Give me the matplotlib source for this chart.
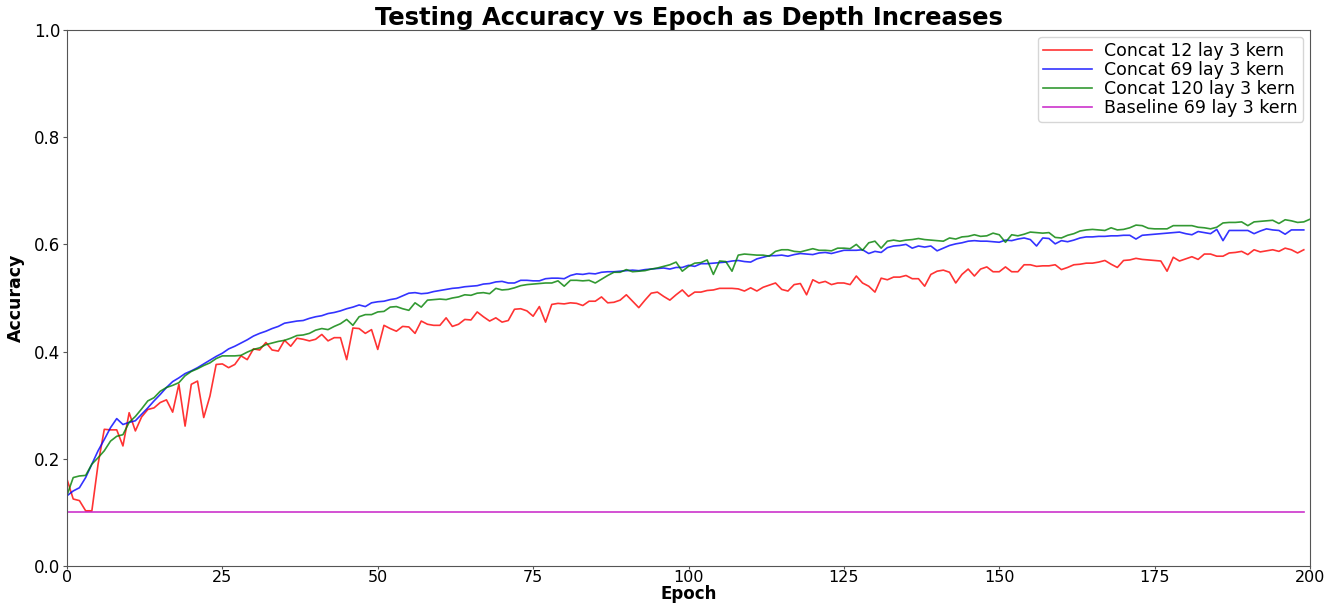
import numpy as np
import matplotlib
matplotlib.use("Agg")
import matplotlib.pyplot as plt
from matplotlib import font_manager

# Test accuracy per epoch for each network configuration
concat_12 = [
    0.162, 0.125, 0.122, 0.103, 0.103, 0.190, 0.255, 0.254, 0.254, 0.224,
    0.286, 0.252, 0.278, 0.292, 0.295, 0.305, 0.310, 0.287, 0.339, 0.261,
    0.339, 0.345, 0.277, 0.317, 0.376, 0.377, 0.370, 0.376, 0.392, 0.385,
    0.405, 0.403, 0.417, 0.403, 0.401, 0.421, 0.410, 0.425, 0.423, 0.420,
    0.423, 0.432, 0.420, 0.426, 0.426, 0.385, 0.444, 0.443, 0.434, 0.441,
    0.404, 0.449, 0.443, 0.438, 0.447, 0.446, 0.434, 0.457, 0.451, 0.449,
    0.449, 0.463, 0.447, 0.451, 0.460, 0.459, 0.474, 0.465, 0.457, 0.463,
    0.455, 0.458, 0.479, 0.480, 0.476, 0.466, 0.484, 0.455, 0.488, 0.490,
    0.489, 0.491, 0.490, 0.486, 0.494, 0.494, 0.502, 0.491, 0.492, 0.496,
    0.506, 0.494, 0.482, 0.496, 0.509, 0.511, 0.503, 0.496, 0.506, 0.515,
    0.503, 0.511, 0.511, 0.514, 0.515, 0.518, 0.518, 0.518, 0.517, 0.513,
    0.519, 0.513, 0.520, 0.524, 0.528, 0.516, 0.513, 0.525, 0.527, 0.506,
    0.534, 0.528, 0.531, 0.525, 0.528, 0.528, 0.525, 0.541, 0.528, 0.522,
    0.511, 0.537, 0.534, 0.539, 0.539, 0.542, 0.536, 0.536, 0.522, 0.544,
    0.550, 0.552, 0.548, 0.528, 0.544, 0.554, 0.541, 0.554, 0.558, 0.549,
    0.549, 0.558, 0.549, 0.549, 0.562, 0.562, 0.559, 0.560, 0.560, 0.562,
    0.553, 0.557, 0.562, 0.563, 0.565, 0.565, 0.567, 0.570, 0.563, 0.557,
    0.570, 0.571, 0.574, 0.572, 0.571, 0.570, 0.569, 0.550, 0.576, 0.569,
    0.573, 0.577, 0.572, 0.582, 0.582, 0.578, 0.578, 0.584, 0.585, 0.587,
    0.581, 0.590, 0.586, 0.588, 0.590, 0.587, 0.593, 0.590, 0.584, 0.590,
]

concat_69 = [
    0.131, 0.140, 0.146, 0.165, 0.190, 0.215, 0.236, 0.258, 0.275, 0.264,
    0.268, 0.271, 0.283, 0.295, 0.308, 0.320, 0.333, 0.344, 0.351, 0.359,
    0.364, 0.370, 0.377, 0.384, 0.391, 0.397, 0.405, 0.410, 0.416, 0.422,
    0.429, 0.434, 0.438, 0.443, 0.447, 0.453, 0.455, 0.457, 0.458, 0.462,
    0.465, 0.467, 0.471, 0.473, 0.476, 0.480, 0.483, 0.487, 0.484, 0.491,
    0.493, 0.494, 0.497, 0.499, 0.504, 0.509, 0.510, 0.508, 0.509, 0.512,
    0.514, 0.516, 0.518, 0.519, 0.521, 0.522, 0.523, 0.526, 0.527, 0.530,
    0.531, 0.528, 0.528, 0.533, 0.533, 0.532, 0.532, 0.536, 0.537, 0.537,
    0.536, 0.542, 0.545, 0.544, 0.546, 0.545, 0.548, 0.549, 0.549, 0.550,
    0.551, 0.552, 0.551, 0.553, 0.554, 0.555, 0.556, 0.554, 0.557, 0.557,
    0.561, 0.559, 0.564, 0.564, 0.565, 0.566, 0.567, 0.569, 0.570, 0.568,
    0.567, 0.573, 0.576, 0.579, 0.579, 0.580, 0.578, 0.581, 0.583, 0.582,
    0.581, 0.584, 0.585, 0.583, 0.586, 0.589, 0.589, 0.589, 0.590, 0.583,
    0.587, 0.585, 0.594, 0.597, 0.598, 0.600, 0.593, 0.597, 0.595, 0.597,
    0.588, 0.593, 0.598, 0.601, 0.603, 0.606, 0.607, 0.606, 0.606, 0.605,
    0.604, 0.608, 0.607, 0.610, 0.612, 0.609, 0.597, 0.612, 0.611, 0.601,
    0.607, 0.605, 0.608, 0.612, 0.614, 0.614, 0.615, 0.615, 0.616, 0.616,
    0.617, 0.617, 0.610, 0.617, 0.618, 0.619, 0.620, 0.621, 0.622, 0.623,
    0.620, 0.618, 0.624, 0.622, 0.620, 0.628, 0.607, 0.626, 0.626, 0.626,
    0.626, 0.620, 0.625, 0.629, 0.627, 0.626, 0.619, 0.627, 0.627, 0.627,
]

concat_120 = [
    0.132, 0.165, 0.168, 0.169, 0.190, 0.202, 0.215, 0.233, 0.242, 0.245,
    0.268, 0.279, 0.293, 0.308, 0.314, 0.326, 0.333, 0.337, 0.342, 0.355,
    0.363, 0.368, 0.374, 0.379, 0.387, 0.392, 0.392, 0.392, 0.393, 0.399,
    0.404, 0.407, 0.413, 0.416, 0.419, 0.421, 0.425, 0.430, 0.431, 0.434,
    0.440, 0.443, 0.441, 0.447, 0.452, 0.460, 0.449, 0.465, 0.469, 0.469,
    0.474, 0.475, 0.483, 0.484, 0.480, 0.477, 0.491, 0.483, 0.496, 0.497,
    0.498, 0.497, 0.500, 0.502, 0.506, 0.505, 0.509, 0.510, 0.508, 0.518,
    0.515, 0.516, 0.519, 0.523, 0.525, 0.526, 0.527, 0.528, 0.528, 0.532,
    0.522, 0.533, 0.533, 0.532, 0.533, 0.528, 0.535, 0.542, 0.548, 0.548,
    0.553, 0.549, 0.550, 0.551, 0.554, 0.556, 0.559, 0.562, 0.567, 0.550,
    0.559, 0.565, 0.566, 0.571, 0.544, 0.569, 0.568, 0.550, 0.580, 0.582,
    0.581, 0.580, 0.580, 0.578, 0.587, 0.590, 0.590, 0.587, 0.586, 0.589,
    0.592, 0.589, 0.589, 0.588, 0.593, 0.593, 0.592, 0.600, 0.589, 0.603,
    0.606, 0.593, 0.606, 0.608, 0.606, 0.608, 0.609, 0.611, 0.609, 0.608,
    0.607, 0.606, 0.612, 0.610, 0.614, 0.615, 0.618, 0.615, 0.616, 0.621,
    0.618, 0.604, 0.618, 0.616, 0.619, 0.623, 0.622, 0.621, 0.622, 0.613,
    0.612, 0.617, 0.620, 0.625, 0.627, 0.628, 0.627, 0.626, 0.631, 0.627,
    0.628, 0.631, 0.636, 0.635, 0.630, 0.629, 0.629, 0.629, 0.635, 0.635,
    0.635, 0.635, 0.632, 0.631, 0.629, 0.632, 0.640, 0.641, 0.641, 0.642,
    0.635, 0.642, 0.643, 0.644, 0.645, 0.639, 0.646, 0.644, 0.641, 0.642,
    0.647,
]

baseline_69 = [0.1] * 200

series_labels = [
    "Concat 12 lay 3 kern",
    "Concat 69 lay 3 kern",
    "Concat 120 lay 3 kern",
    "Baseline 69 lay 3 kern",
]
series_colors = ["#ff0000", "#0000ff", "#008000", "#bf00bf"]

x_ticks = [0, 25, 50, 75, 100, 125, 150, 175, 200]
y_ticks = [0.0, 0.2, 0.4, 0.6, 0.8, 1.0]

# Prefer a narrow face for the vertical axis label when one is installed
installed = {f.name for f in font_manager.fontManager.ttflist}
if "Liberation Sans Narrow" in installed:
    ylabel_font = dict(family=["Liberation Sans Narrow", "DejaVu Sans"], fontsize=16)
else:
    ylabel_font = dict(family=["DejaVu Sans"], fontsize=12.5)

fig_w, fig_h = 1339, 604
ax_left, ax_right, ax_top, ax_bottom = 67, 1310, 30, 566

fig = plt.figure(figsize=(fig_w / 100, fig_h / 100), dpi=100)
ax = fig.add_axes([ax_left / fig_w, 1 - ax_bottom / fig_h,
                   (ax_right - ax_left) / fig_w, (ax_bottom - ax_top) / fig_h])

for data, label, color in zip(
    [concat_12, concat_69, concat_120, baseline_69], series_labels, series_colors
):
    ax.plot(np.arange(len(data)), data, color=color, lw=1.2, alpha=0.8, label=label)

ax.set_xlim(0, 200)
ax.set_ylim(0.0, 1.0)
ax.set_xticks(x_ticks)
ax.set_yticks(y_ticks)
ax.set_xticklabels([str(t) for t in x_ticks])
ax.set_yticklabels([f"{t:.1f}" for t in y_ticks])
ax.tick_params(labelsize=12, length=3, color="#555555")
ax.tick_params(axis="x", labelsize=11.5, length=2.5, pad=0.3)
ax.tick_params(axis="y", pad=2)
for s in ax.spines.values():
    s.set_color("#555555")

ax.set_title("Testing Accuracy vs Epoch as Depth Increases",
             fontsize=17.5, fontweight="bold", pad=3)

# x label sits in the thin strip under the tick labels, bottom-aligned
ax.set_xlabel("Epoch", fontsize=12, fontweight="bold")
ax.xaxis.set_label_coords(0.5, -(fig_h - 1 - ax_bottom) / (ax_bottom - ax_top))
ax.xaxis.label.set_verticalalignment("bottom")

ax.set_ylabel("Accuracy", fontweight="bold", labelpad=6, **ylabel_font)

ax.legend(loc="upper right", fontsize=12.5, handlelength=2.8, handletextpad=0.7,
          labelspacing=0.05, borderpad=0.3, borderaxespad=0.4, frameon=True)

fig.savefig("out.png", dpi=100)
